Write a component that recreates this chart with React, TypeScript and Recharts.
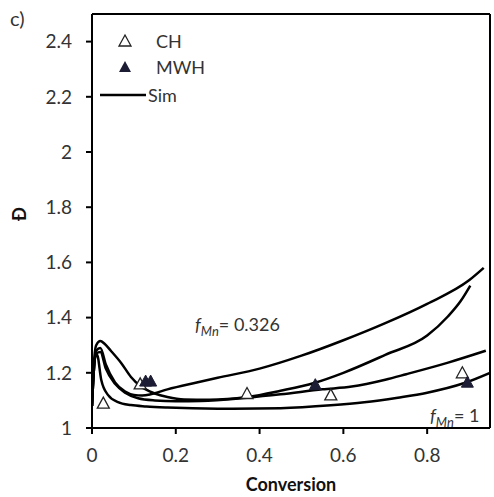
import {
  ComposedChart,
  Line,
  Scatter,
  XAxis,
  YAxis,
  ReferenceLine,
  ReferenceDot,
  Legend,
} from 'recharts';

const FONT = 'Lato, "Open Sans", sans-serif';
const TEXT = '#333';

const xTicks = [0, 0.2, 0.4, 0.6, 0.8];
const yTicks = [1, 1.2, 1.4, 1.6, 1.8, 2, 2.2, 2.4];

// simulated curves (conversion, dispersity)
const simAConv = [0, 0.004, 0.01, 0.02, 0.033, 0.055, 0.079, 0.1, 0.12, 0.14, 0.18, 0.25, 0.3, 0.4, 0.5, 0.6, 0.7, 0.8, 0.9, 0.935];
const simAD = [1.08, 1.2, 1.28, 1.29, 1.23, 1.165, 1.132, 1.12, 1.118, 1.122, 1.14, 1.165, 1.182, 1.215, 1.262, 1.318, 1.38, 1.45, 1.535, 1.58];

const simBConv = [0, 0.004, 0.01, 0.02, 0.03, 0.045, 0.07, 0.093, 0.117, 0.15, 0.18, 0.22, 0.28, 0.37, 0.45, 0.53, 0.6, 0.7, 0.8, 0.85, 0.88, 0.903];
const simBD = [1.08, 1.22, 1.3, 1.315, 1.305, 1.28, 1.235, 1.185, 1.15, 1.125, 1.112, 1.103, 1.102, 1.112, 1.135, 1.163, 1.2, 1.265, 1.335, 1.405, 1.46, 1.516];

const simCConv = [0, 0.004, 0.01, 0.02, 0.033, 0.055, 0.079, 0.11, 0.15, 0.2, 0.26, 0.37, 0.45, 0.55, 0.62, 0.7, 0.75, 0.85, 0.94];
const simCD = [1.08, 1.2, 1.27, 1.275, 1.215, 1.16, 1.128, 1.108, 1.1, 1.097, 1.098, 1.11, 1.122, 1.14, 1.15, 1.175, 1.195, 1.237, 1.28];

const simDConv = [0, 0.004, 0.008, 0.012, 0.022, 0.038, 0.062, 0.093, 0.13, 0.18, 0.3, 0.45, 0.57, 0.65, 0.73, 0.8, 0.887, 0.95];
const simDD = [1.08, 1.2, 1.26, 1.265, 1.175, 1.12, 1.094, 1.083, 1.078, 1.074, 1.07, 1.072, 1.082, 1.093, 1.11, 1.128, 1.162, 1.2];

// measured points
const chConv = [0.027, 0.115, 0.37, 0.57, 0.884];
const chD = [1.09, 1.16, 1.125, 1.12, 1.2];
const mwhConv = [0.128, 0.14, 0.533, 0.896];
const mwhD = [1.17, 1.17, 1.157, 1.166];

const pairs = (xs: number[], ys: number[]) => xs.map((x, i) => ({ x, y: ys[i] }));

const sims = [
  pairs(simAConv, simAD),
  pairs(simBConv, simBD),
  pairs(simCConv, simCD),
  pairs(simDConv, simDD),
];

const triPath = (cx: number, cy: number) =>
  `M${cx},${cy - 6} L${cx + 6},${cy + 5} L${cx - 6},${cy + 5} Z`;

const OpenTri = (p: any) => (
  <path d={triPath(p.cx, p.cy)} fill="#fff" stroke="#222" strokeWidth={1.3} />
);
const FilledTri = (p: any) => (
  <path d={triPath(p.cx, p.cy)} fill="#1c1c34" stroke="#1c1c34" strokeWidth={1} />
);

const FLabel = ({ viewBox, val }: any) => (
  <text x={viewBox.x} y={viewBox.y} fontFamily={FONT} fontSize={18} fill={TEXT}>
    <tspan fontStyle="italic">f</tspan>
    <tspan fontStyle="italic" fontSize={13} dy={5}>Mn</tspan>
    <tspan dy={-5}>= {val}</tspan>
  </text>
);

const LegendBox = () => (
  <div style={{ fontFamily: FONT, fontSize: 18, color: TEXT, lineHeight: '26px' }}>
    <div style={{ display: 'flex', alignItems: 'center' }}>
      <svg width={48} height={26}><path d={triPath(25, 13)} fill="#fff" stroke="#222" strokeWidth={1.3} /></svg>
      <span style={{ marginLeft: 8 }}>CH</span>
    </div>
    <div style={{ display: 'flex', alignItems: 'center' }}>
      <svg width={48} height={26}><path d={triPath(25, 13)} fill="#1c1c34" /></svg>
      <span style={{ marginLeft: 8 }}>MWH</span>
    </div>
    <div style={{ display: 'flex', alignItems: 'center', marginTop: 2 }}>
      <svg width={48} height={26}><line x1={0} y1={13} x2={46} y2={13} stroke="#000" strokeWidth={2.5} /></svg>
      <span>Sim</span>
    </div>
  </div>
);

export default function App() {
  return (
    <div style={{ position: 'absolute', left: 0, top: 0, width: 494, height: 497, background: '#fff' }}>
      <ComposedChart width={494} height={497} margin={{ top: 14, right: 4, left: 0, bottom: 0 }}>
        <XAxis
          type="number"
          dataKey="x"
          domain={[0, 0.95]}
          ticks={xTicks}
          allowDataOverflow
          height={69}
          tickSize={6}
          tickMargin={15}
          tick={{ fill: TEXT, fontSize: 19, fontFamily: FONT }}
          axisLine={{ stroke: '#000', strokeWidth: 2 }}
          tickLine={{ stroke: '#000', strokeWidth: 2 }}
          label={{ value: 'Conversion', position: 'insideBottom', offset: 6, fill: '#111', fontSize: 18, fontWeight: 'bold', fontFamily: FONT }}
        />
        <YAxis
          type="number"
          dataKey="y"
          domain={[1, 2.5]}
          ticks={yTicks}
          allowDataOverflow
          width={92}
          tickSize={6}
          tickMargin={14}
          tick={{ fill: TEXT, fontSize: 19, fontFamily: FONT }}
          axisLine={{ stroke: '#000', strokeWidth: 2 }}
          tickLine={{ stroke: '#000', strokeWidth: 2 }}
          label={{ value: 'Đ', angle: -90, position: 'insideLeft', offset: 20, fill: '#111', fontSize: 18, fontWeight: 'bold', fontFamily: FONT }}
        />
        <ReferenceLine y={2.5} stroke="#000" strokeWidth={2} />
        <ReferenceLine x={0.95} stroke="#000" strokeWidth={2} />
        {sims.map((d, i) => (
          <Line
            key={i}
            data={d}
            dataKey="y"
            type="monotone"
            stroke="#000"
            strokeWidth={2.5}
            dot={false}
            isAnimationActive={false}
            legendType="none"
          />
        ))}
        <Scatter data={pairs(chConv, chD)} dataKey="y" shape={OpenTri} isAnimationActive={false} />
        <Scatter data={pairs(mwhConv, mwhD)} dataKey="y" shape={FilledTri} isAnimationActive={false} />
        <ReferenceDot x={0.246} y={1.352} r={0} label={(p: any) => <FLabel {...p} val="0.326" />} />
        <ReferenceDot x={0.807} y={1.02} r={0} label={(p: any) => <FLabel {...p} val="1" />} />
        <Legend
          layout="vertical"
          align="center"
          verticalAlign="middle"
          wrapperStyle={{ left: 100, top: 28, width: 'auto' }}
          content={() => <LegendBox />}
        />
      </ComposedChart>
      <div style={{ position: 'absolute', left: 10, top: 6, zIndex: 2, fontFamily: FONT, fontSize: 20, color: TEXT, lineHeight: '24px' }}>c)</div>
    </div>
  );
}
